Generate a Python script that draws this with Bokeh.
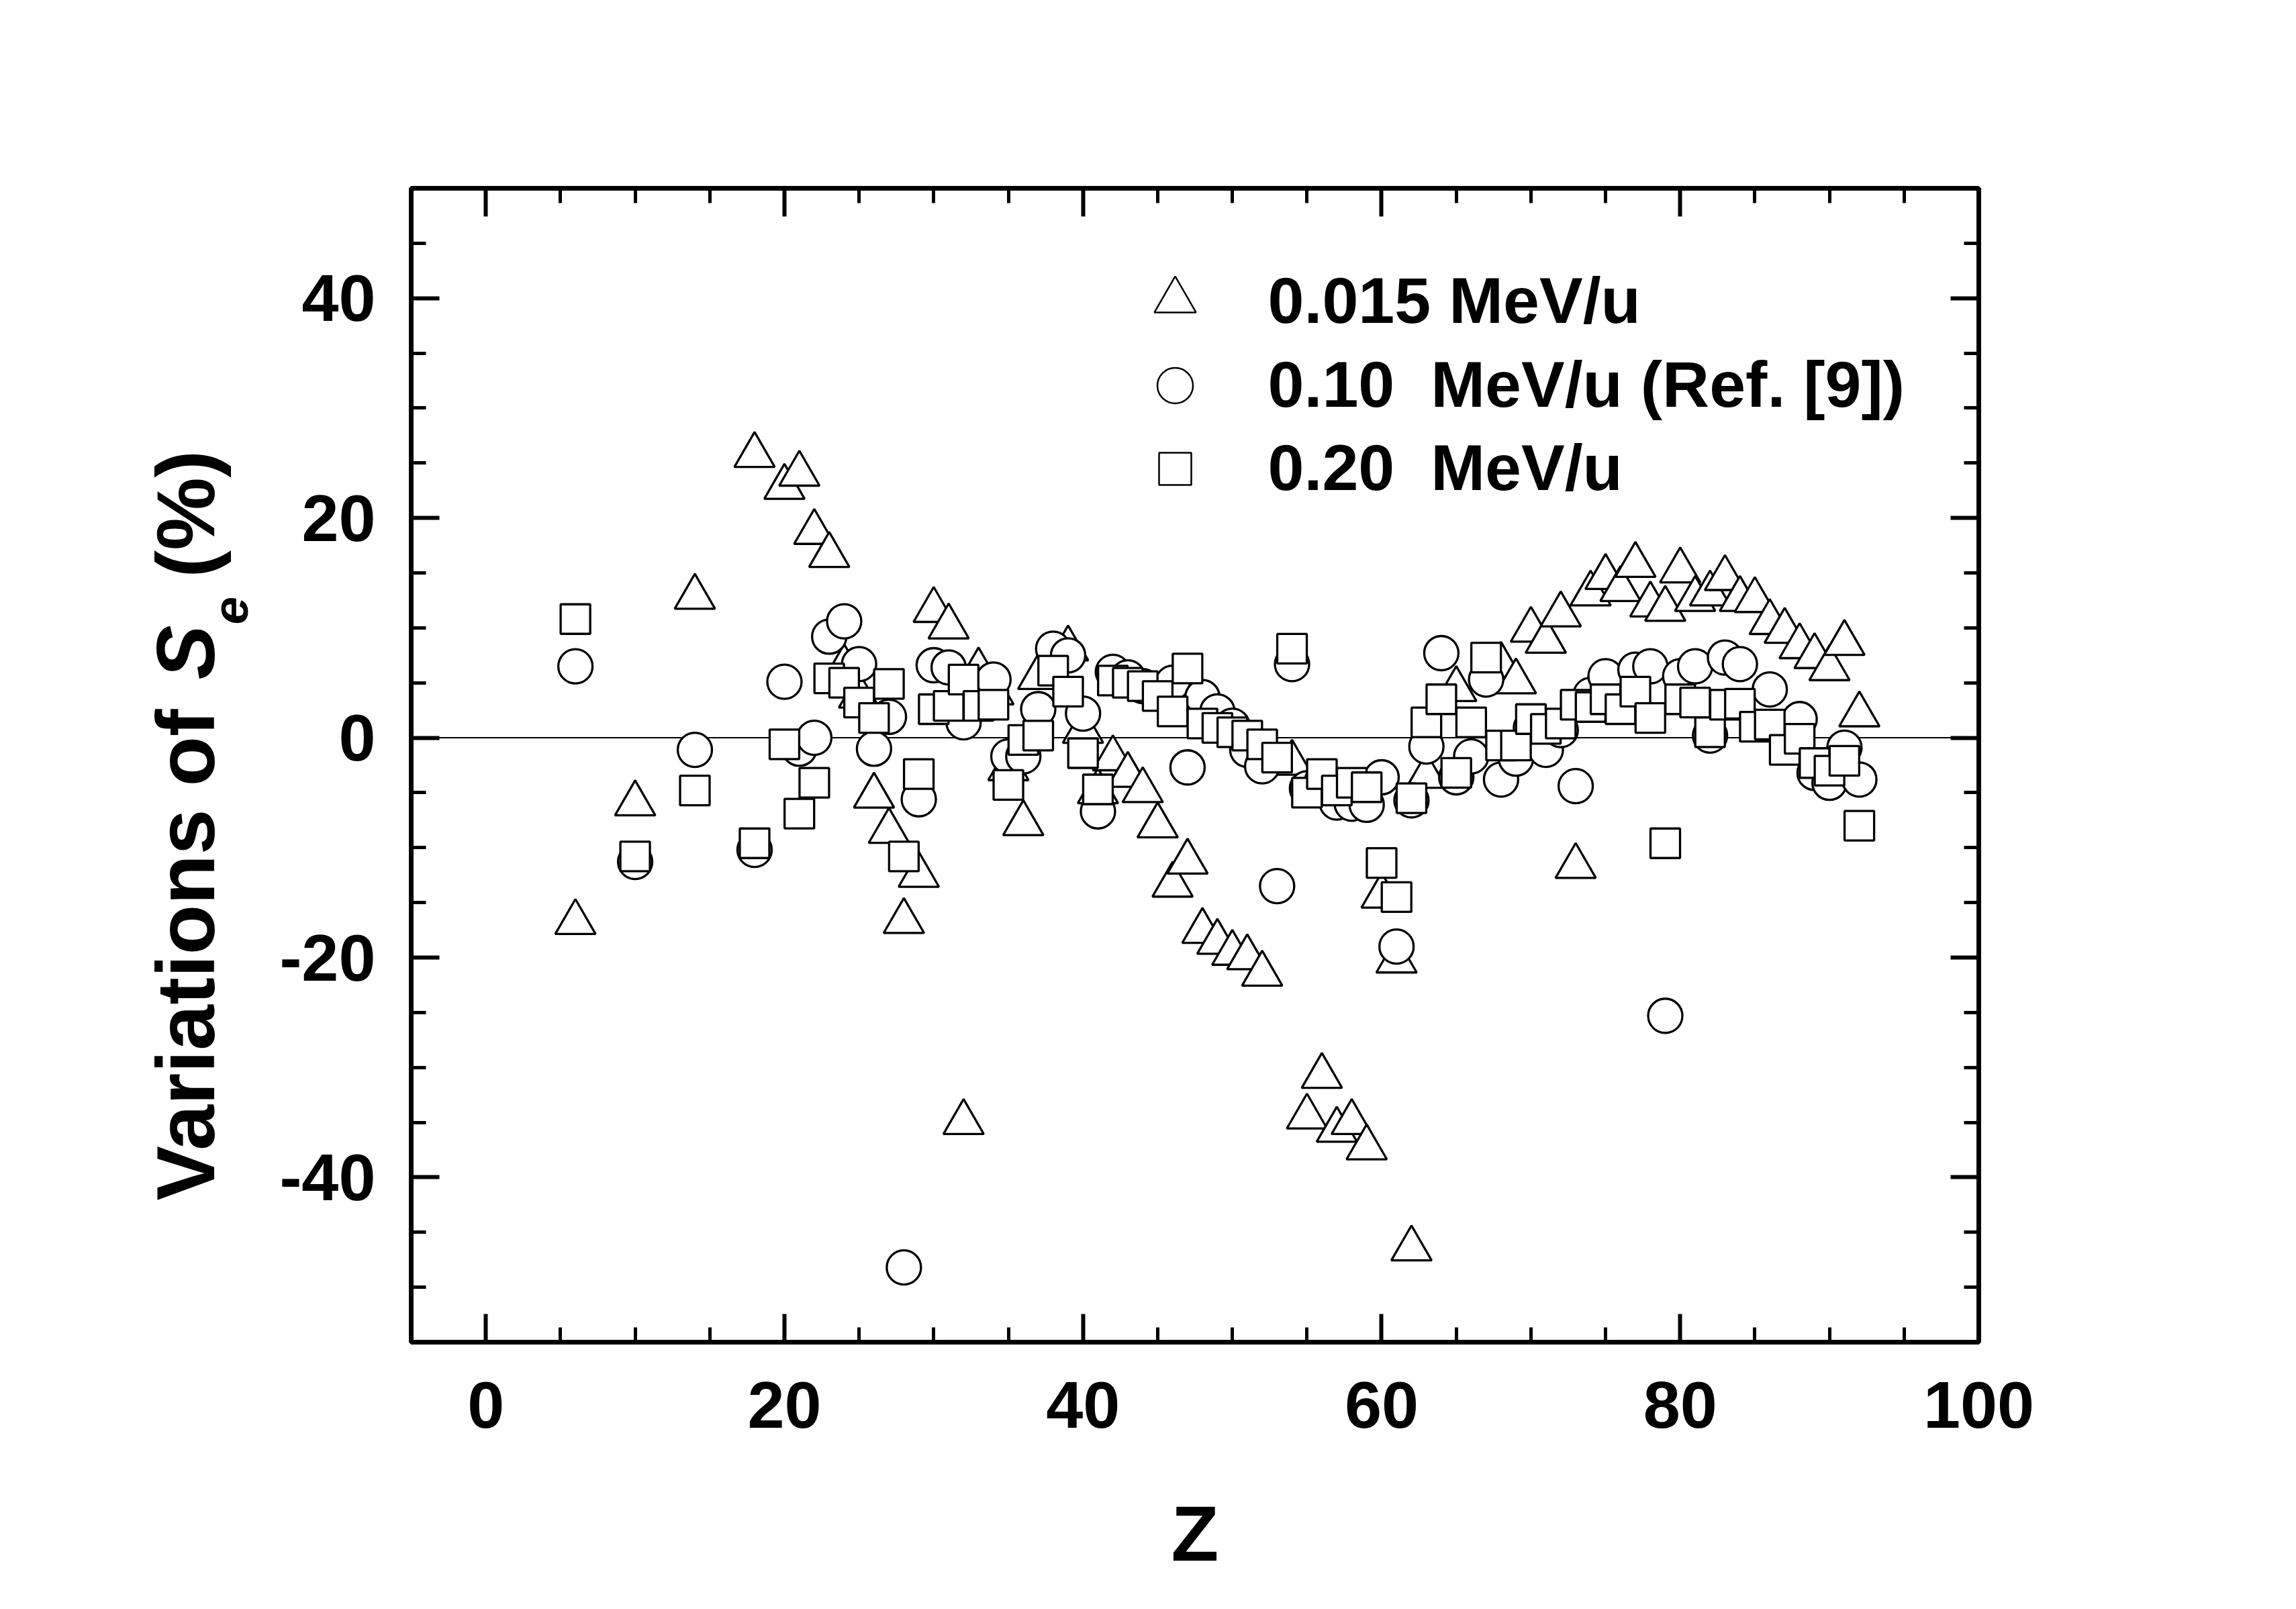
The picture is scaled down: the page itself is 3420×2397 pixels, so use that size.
import math
from bokeh.plotting import figure
from bokeh.layouts import row
from bokeh.models import Range1d, LinearAxis, FixedTicker, Span, Label
from bokeh.embed import file_html
from bokeh.resources import INLINE
from bokeh.core.properties import value

# ---------------- data ----------------
# 0.015 MeV/u (triangles)
Z_tri = [6, 10, 14, 18, 20, 21, 22, 23, 24, 25, 26, 27, 28, 29, 30, 31, 32, 33, 34, 35, 36, 37,
         39, 40, 41, 42, 43, 44, 45, 46, 47, 48, 49, 50, 51, 52, 54, 55, 56, 57, 58, 59, 60,
         61, 62, 63, 65, 68, 69, 70, 71, 72, 73, 74, 75, 76, 77, 78, 79, 80, 81, 82, 83, 84,
         85, 86, 87, 88, 89, 90, 91, 92]
dS_tri = [-16.8, -6.0, 12.8, 25.7, 22.8, 24.0, 18.7, 16.6, 6.4, 3.8, -5.3, -8.5, -16.7, -12.5,
          11.6, 10.1, -35.0, 6.1, 4.1, -2.8, -7.8, 5.5,
          8.1, 0.6, -4.9, -1.9, -3.4, -4.8, -8.0, -13.4, -11.3, -17.6, -18.6, -19.6, -20.0, -21.5,
          -2.3, -34.5, -30.8, -35.7, -35.0, -37.3, -14.4, -20.3, -46.5, -3.5, 4.4,
          6.6, 5.1, 9.8, 8.8, 11.2, -11.7, 13.1, 14.6, 13.5, 15.7, 12.1, 11.7, 15.2, 12.6, 13.1,
          14.5, 12.6, 12.5, 10.5, 9.7, 8.3, 7.4, 6.3, 8.6, 2.1]

# 0.10 MeV/u, Ref. [9] (circles)
Z_cir = [6, 10, 14, 18, 20, 21, 22, 23, 24, 25, 26, 27, 28, 29, 30, 31, 32, 34, 35, 36, 37, 38,
         39, 40, 41, 42, 43, 44, 46, 47, 48, 49, 50, 51, 52, 53, 54, 55, 56, 57, 58, 59, 60, 61,
         62, 63, 64, 65, 66, 67, 68, 69, 70, 71, 72, 73, 74, 75, 77, 78, 79, 80, 81, 82, 83, 84,
         86, 88, 89, 90, 91, 92]
dS_cir = [6.5, -11.3, -1.1, -10.2, 5.1, -1.0, 0.0, 9.2, 10.6, 6.7, -1.0, 1.9, -48.2, -5.6, 6.6,
          6.4, 1.4, 5.3, -1.7, -1.7, 2.6, 8.1, 7.5, 2.2, -6.7, 6.0, 5.5, 4.7,
          5.0, -2.7, 3.7, 2.4, 1.1, -1.1, -2.6, -13.5, 6.7, -4.6, -4.0, -5.9, -6.0, -6.1, -3.6,
          -19.0, -5.7, -0.8, 7.7, -3.6, -1.7, 5.3, -3.8, -1.9, 0.9, -1.1, 0.7, -4.4, 3.9, 5.6,
          6.2, 6.5, -25.3, 5.6, 6.5, 0.2, 7.3, 6.7,
          4.4, 1.7, -3.2, -4.1, -0.9, -3.8]

# 0.20 MeV/u (squares)
Z_sq = [6, 10, 14, 18, 20, 21, 22, 23, 24, 25, 26, 27, 28, 29, 30, 31, 32, 33, 34, 35, 36, 37,
        38, 39, 40, 41, 42, 43, 44, 45, 46, 47, 48, 49, 50, 51, 52, 53, 54, 55, 56, 57, 58, 59,
        60, 61, 62, 63, 64, 65, 66, 67, 68, 69, 70, 71, 72, 73, 74, 75, 76, 77, 78, 79, 80, 81,
        82, 83, 84, 85, 86, 87, 88, 89, 90, 91, 92]
dS_sq = [10.8, -10.8, -4.8, -9.6, -0.6, -6.9, -4.1, 5.4, 5.0, 3.2, 1.8, 4.9, -10.8, -3.3, 2.6,
         2.9, 5.3, 2.9, 3.0, -4.3, -0.2, 0.2,
         6.1, 4.2, -1.4, -4.7, 5.2, 5.0, 4.7, 3.8, 2.4, 6.3, 1.3, 0.9, 0.5, 0.2, -0.6, -1.8, 8.1,
         -5.0, -3.3, -4.8, -4.1, -4.5,
         -11.4, -14.5, -5.5, 1.4, 3.5, -3.2, 1.4, 7.3, -0.7, -0.7, 1.7, 0.8, 1.3, 3.0, 2.8, 3.5,
         2.6, 4.2, 1.8, -9.6, 3.5, 3.2,
         0.5, 3.0, 3.1, 1.0, 1.2, -1.1, -0.1, -2.3, -3.0, -2.1, -8.0]

series_labels = ["0.015 MeV/u", "0.10\u00a0\u00a0MeV/u (Ref. [9])", "0.20\u00a0\u00a0MeV/u"]

x_major = [0, 20, 40, 60, 80, 100]
x_minor = [-5, 5, 10, 15, 25, 30, 35, 45, 50, 55, 65, 70, 75, 85, 90, 95]
y_major = [-40, -20, 0, 20, 40]
y_minor = [-55, -50, -45, -35, -30, -25, -15, -10, -5, 5, 10, 15, 25, 30, 35, 45, 50]
y_tick_text = {-40: "-40", -20: "-20", 0: "0", 20: "20", 40: "40"}

# ---------------- layout ----------------
FONT = "Liberation Sans"
H = 2381
TW = 400                      # width of the strip holding the y title
W = 3404 - TW                 # main figure width
PL, PT, FW, FH = 612, 280, 2335, 1719     # frame position on the page
FL = PL - TW
X0, X1, Y0, Y1 = -5, 100, -55, 50


def px(X, Y):
    """page pixel -> data coordinates of the main plot"""
    return X0 + (X - PL) / FW * (X1 - X0), Y1 - (Y - PT) / FH * (Y1 - Y0)


p = figure(width=W, height=H, x_range=Range1d(X0, X1), y_range=Range1d(Y0, Y1),
           output_backend="svg", toolbar_location=None, tools="",
           min_border_left=FL, min_border_top=PT,
           min_border_right=W - FL - FW, min_border_bottom=H - PT - FH)
p.background_fill_color = "white"
p.border_fill_color = "white"
p.xgrid.visible = False
p.ygrid.visible = False
p.outline_line_color = "black"
p.outline_line_width = 7


def style_axis(ax, labels=True, standoff=40):
    ax.axis_line_color = None
    ax.major_tick_in = 42
    ax.major_tick_out = 0
    ax.minor_tick_in = 22
    ax.minor_tick_out = 0
    ax.major_tick_line_width = 6
    ax.minor_tick_line_width = 5
    ax.major_tick_line_color = "black"
    ax.minor_tick_line_color = "black"
    ax.major_label_text_font = FONT
    ax.major_label_text_font_style = "bold"
    ax.major_label_text_font_size = "99px"
    ax.major_label_text_color = "black" if labels else None
    ax.major_label_standoff = standoff


p.xaxis.ticker = FixedTicker(ticks=x_major, minor_ticks=x_minor)
p.yaxis.ticker = FixedTicker(ticks=y_major, minor_ticks=y_minor)
p.yaxis.major_label_overrides = y_tick_text
style_axis(p.xaxis[0], True, 59)
style_axis(p.yaxis[0], True, 53)
p.xaxis.axis_label = "Z"
p.xaxis.axis_label_text_font = FONT
p.xaxis.axis_label_text_font_style = "bold"
p.xaxis.axis_label_text_font_size = "116px"
p.xaxis.axis_label_text_color = "black"
p.xaxis.axis_label_standoff = 90

top = LinearAxis(ticker=FixedTicker(ticks=x_major, minor_ticks=x_minor),
                 major_label_overrides={t: "" for t in x_major})
style_axis(top, False, 0)
p.add_layout(top, "above")
right = LinearAxis(ticker=FixedTicker(ticks=y_major, minor_ticks=y_minor),
                   major_label_overrides={t: "" for t in y_major})
style_axis(right, False, 0)
p.add_layout(right, "right")

# zero line
p.add_layout(Span(location=0, dimension="width", line_color="black", line_width=2,
                  level="underlay"))

# data markers
p.scatter(Z_tri, dS_tri, marker="triangle", size=60, fill_color="white",
          line_color="black", line_width=3.3)
p.scatter(Z_cir, dS_cir, marker="circle", size=51, fill_color="white",
          line_color="black", line_width=3.3)
p.scatter(Z_sq, dS_sq, marker="square", size=44, fill_color="white",
          line_color="black", line_width=3.3)

# legend (drawn by hand)
lg_sym = [px(1750, 447), px(1750, 574), px(1750, 698)]
lg_txt = [px(1888, 447), px(1888, 572), px(1888, 696)]
for (sx, sy), mk, sz in zip(lg_sym, ["triangle", "circle", "square"], [62, 53, 48]):
    p.scatter([sx], [sy], marker=mk, size=sz, fill_color="white", line_color="black",
              line_width=2.5)
for (tx, ty), txt in zip(lg_txt, series_labels):
    p.add_layout(Label(x=tx, y=ty, text=txt, text_font=FONT, text_font_style="bold",
                       text_font_size="97px", text_color="black",
                       text_align="left", text_baseline="middle"))

# y-axis title strip: Variations of S_e (%)
# (its frame is aligned by the row layout with the main frame: page rows PT..PT+FH)
t = figure(width=TW, height=H, x_range=Range1d(0, TW), y_range=Range1d(-(PT + FH), -PT),
           output_backend="svg", toolbar_location=None, tools="",
           x_axis_type=None, y_axis_type=None, min_border=0)
t.outline_line_color = None
t.xgrid.visible = False
t.ygrid.visible = False
t.background_fill_color = "white"
t.border_fill_color = "white"

ypieces = [
    ("Variations of", (276, 1788), "bold", "122px"),
    ("S", (276, 1012), "bold italic", "122px"),
    ("e", (342, 930), "bold italic", "75px"),
    ("(%)", (276, 860), "bold", "122px"),
]
for txt, (X, Y), style, size in ypieces:
    t.text(x=[X], y=[-Y], text=[txt], angle=math.pi / 2, text_font=value(FONT),
           text_font_style=style, text_font_size=size, text_color="black",
           text_align="left", text_baseline="middle")

layout = row(t, p)
open("out.html", "w").write(file_html(layout, INLINE))
